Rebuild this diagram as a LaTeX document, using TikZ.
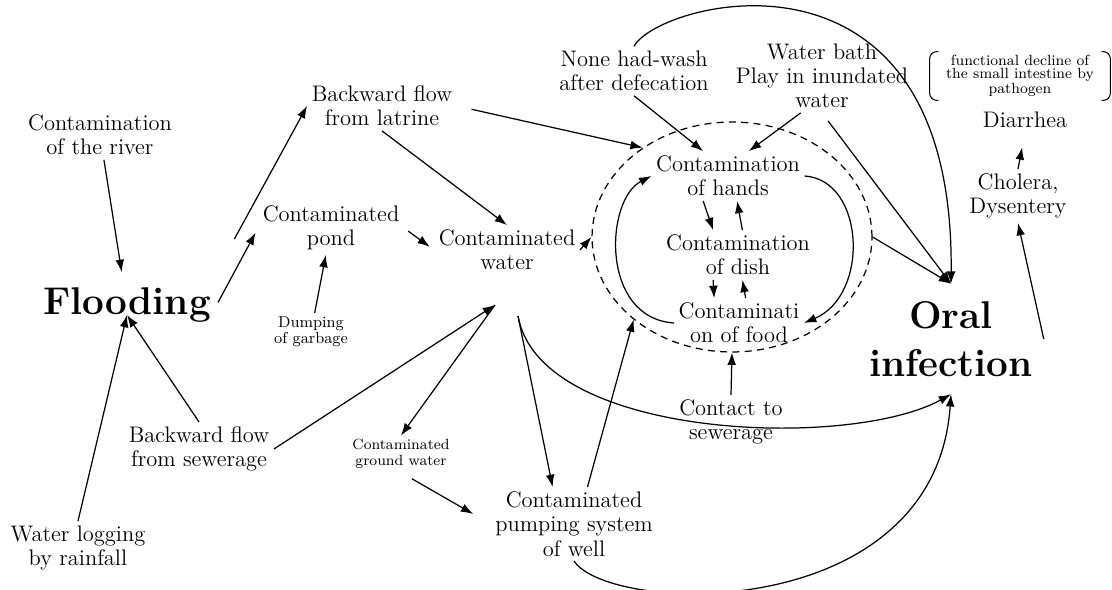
\documentclass[tikz,border=0pt]{standalone}
\usetikzlibrary{arrows.meta,shapes.geometric}

\begin{document}
\begin{tikzpicture}[x=0.02cm,y=-0.02cm,
    txt/.style={align=center,inner sep=2.5pt,font=\fontsize{12.8}{13.8}\selectfont},
    big/.style={align=center,inner xsep=3pt,font=\fontsize{22}{27}\selectfont\bfseries},
    arr/.style={line width=0.7pt,-{Latex[length=7pt,width=5pt]}},
    lin/.style={line width=0.6pt}]
    \useasboundingbox (0,0) rectangle (1112,590);
    % the dashed circle round hands, dish and food
    \node[draw,ellipse,dash pattern=on 4pt off 3pt,line width=0.7pt,inner sep=0pt,
        minimum width=5.6cm,minimum height=4.6cm] (cyc) at (732,237) {};
    \node[txt] (hands) at (728,176) {Contamination\\of hands};
    \node[txt] (dish) at (738,255) {Contamination\\of dish};
    \node[txt] (food) at (739,323) {Contaminati\\on of food};
    \node[txt] (river) at (100,135) {Contamination\\of the river};
    \node[big,anchor=base,inner ysep=9pt] (flood) at (127,315) {Flooding};
    \node[txt] (rain) at (78,548) {Water logging\\by rainfall};
    \node[txt] (latrine) at (382,106) {Backward flow\\from latrine};
    \node[txt] (pond) at (331,228) {Contaminated\\pond};
    \node[align=center,inner sep=2pt,font=\fontsize{9}{6.8}\selectfont] (garbage) at (311,332) {Dumping\\of garbage};
    \node[txt] (water) at (507,250) {Contaminated\\water};
    \node[txt] (sewer) at (199,449) {Backward flow\\from sewerage};
    \node[align=center,inner sep=2pt,font=\fontsize{8.4}{9}\selectfont] (ground) at (401,454) {Contaminated\\ground water};
    \node[txt] (well) at (574,524) {Contaminated\\pumping system\\of well};
    \node[txt] (contact) at (731,422) {Contact to\\sewerage};
    \node[txt] (wash) at (634,71) {None had-wash\\after defecation};
    \node[txt] (bath) at (822,76) {Water bath\\Play in inundated\\water};
    \node[big,inner ysep=10pt,inner xsep=6pt] (oral) at (951,339) {Oral\\infection};
    \node[txt] (chol) at (1018,196) {Cholera,\\Dysentery};
    \node[txt] (diar) at (1025,120) {Diarrhea};
    \node[align=center,inner sep=0pt,minimum width=3.6cm,minimum height=0.96cm,
        font=\fontsize{8.4}{7.4}\selectfont] (note) at (1020,76) {functional decline of\\the small intestine by\\pathogen};
    \draw[lin,rounded corners=4pt] ([xshift=5pt]note.north west) -- (note.north west) -- (note.south west) -- ([xshift=5pt]note.south west);
    \draw[lin,rounded corners=4pt] ([xshift=-5pt]note.north east) -- (note.north east) -- (note.south east) -- ([xshift=-5pt]note.south east);
    \coordinate (wl) at (495,305);
    \coordinate (wr) at (518,316);

    \draw[arr] (river) -- (flood);
    \draw[arr] (rain.north) -- (flood.base);
    \draw[arr] (sewer.north) -- (flood.base);
    \draw[arr,shorten <=0.75cm] (flood.north east) -- (latrine.west);
    \draw[arr,shorten <=2pt,shorten >=3pt] (flood.east) -- (pond.west);
    \draw[arr] (garbage) -- (pond);
    \draw[arr] (latrine.south) -- (water.north);
    \draw[arr,shorten <=3pt,shorten >=3pt] (pond.east) -- (water.west);
    \draw[arr,shorten <=0.3cm] (latrine.east) -- (cyc.135);
    \draw[arr] (water.east) -- (cyc.west);
    \draw[arr] (sewer.east) -- (wl);
    \draw[arr] (wl) -- (ground.north);
    \draw[arr,shorten <=0.25cm,shorten >=0.4cm] (ground.south) -- (well.west);
    \draw[arr] (wr) -- (well.120);
    \draw[arr] (well.70) -- (cyc.220);
    \draw[arr] (contact.north) -- (cyc.south);
    \draw[arr] (wash.south) -- (hands.135);
    \draw[arr] (bath.240) -- (hands.50);
    \draw[arr] (hands.225) -- (dish.135);
    \draw[arr] (dish.80) -- (hands.290);
    \draw[arr] (dish.225) -- (food.135);
    \draw[arr] (food.75) -- (dish.280);
    \draw[arr] (food.west) .. controls (600,318) and (605,200) .. (hands.west);
    \draw[arr] (hands.east) .. controls (865,180) and (870,295) .. (food.east);
    \draw[arr] (wash.north) .. controls (660,0) and (955,-75) .. (oral.north);
    \draw[arr,shorten <=0.2cm] (bath.south) -- (oral.north);
    \draw[arr] (cyc.east) -- (oral.north);
    \draw[arr] (wr) .. controls (540,440) and (850,450) .. (oral.south);
    \draw[arr] (well.south) .. controls (610,615) and (935,625) .. (oral.south);
    \draw[arr] (oral.east) -- (chol.south);
    \draw[arr,shorten >=0.3cm] (chol.north) -- (diar.south);
\end{tikzpicture}
\end{document}
